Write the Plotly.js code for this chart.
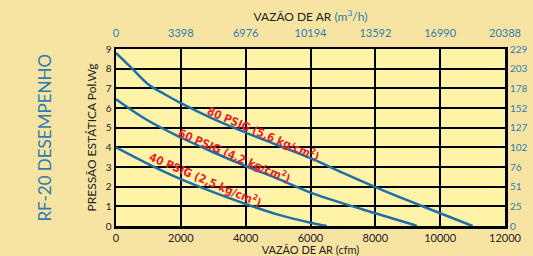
<!DOCTYPE html>
<html>
<head>
<meta charset="utf-8">
<script src="https://cdn.plot.ly/plotly-3.0.1.min.js"></script>
<style>html,body{margin:0;padding:0;background:#f8e4a2;}#chart{width:533px;height:256px;}</style>
</head>
<body>
<div id="chart"></div>
<script>
// Air flow (cfm) and static pressure (in. w.g.)
const flow80 = [0, 500, 1000, 1500, 2000, 3000, 4000, 5000, 6000, 7000, 8000, 9000, 10000, 11000];
const press80 = [8.8, 8.0, 7.2, 6.7, 6.25, 5.45, 4.75, 4.1, 3.45, 2.7, 1.98, 1.3, 0.65, 0];
const flow60 = [0, 1000, 2000, 3000, 4000, 5000, 6000, 7000, 8000, 9000, 9280];
const press60 = [6.45, 5.35, 4.5, 3.75, 3.05, 2.4, 1.7, 1.15, 0.65, 0.15, 0];
const flow40 = [0, 1000, 2000, 3000, 4000, 5000, 6000, 6500];
const press40 = [4.0, 3.15, 2.38, 1.72, 1.12, 0.58, 0.17, 0];

const seriesLabels = ['80 PSIG (5,6 kg/cm<sup>2</sup>)', '60 PSIG (4,2 kg/cm<sup>2</sup>)', '40 PSIG (2,5 kg/cm<sup>2</sup>)'];
const labelX = [4534, 3640, 2745];
const labelY = [4.68, 3.56, 2.34];

const cfmTicks = [0, 2000, 4000, 6000, 8000, 10000, 12000];
const cfmTickText = ['0', '2000', '4000', '6000', '8000', '10000', '12000'];
const m3hTickText = ['0', '3398', '6976', '10194', '13592', '16990', '20388'];
const inwgTicks = [0, 1, 2, 3, 4, 5, 6, 7, 8, 9];
const mmTickText = ['0', '25', '51', '76', '102', '127', '152', '178', '203', '229'];

const blue = '#1f6ea8';
const axisBlue = '#2d7db3';
const red = '#e8212b';
const font = 'Lato, "Open Sans", sans-serif';
const labelFont = '"Liberation Sans Narrow", "DejaVu Sans Condensed", "Open Sans", sans-serif';

const lineStyle = {color: blue, width: 2.5, shape: 'spline', smoothing: 1};
const traces = [
  {x: flow80, y: press80, mode: 'lines', line: lineStyle, hoverinfo: 'skip'},
  {x: flow60, y: press60, mode: 'lines', line: lineStyle, hoverinfo: 'skip'},
  {x: flow40, y: press40, mode: 'lines', line: lineStyle, hoverinfo: 'skip'},
  {x: [0, 12000], y: [0, 0], xaxis: 'x2', yaxis: 'y2', mode: 'markers', marker: {opacity: 0}, hoverinfo: 'skip'}
];

const annotations = seriesLabels.map((t, i) => ({
  text: '<b>' + t + '</b>', x: labelX[i], y: labelY[i], xref: 'x', yref: 'y', showarrow: false,
  textangle: 23, font: {family: labelFont, size: 11.5, color: red}
}));
annotations.push({
  text: 'RF-20 DESEMPENHO', xref: 'paper', yref: 'paper', x: -0.185, y: 0.5,
  xanchor: 'center', yanchor: 'middle', showarrow: false, textangle: -90,
  font: {family: font, size: 17, color: axisBlue}
});

const layout = {
  width: 533, height: 256,
  margin: {l: 116, r: 28, t: 49, b: 30},
  paper_bgcolor: '#f8e4a2',
  plot_bgcolor: '#fff3a8',
  showlegend: false,
  font: {family: font, size: 10, color: '#222'},
  xaxis: {
    range: [0, 12000], tickvals: cfmTicks, ticktext: cfmTickText, showgrid: true, gridcolor: '#000', gridwidth: 2,
    zeroline: false, showline: true, linecolor: '#000', linewidth: 2.5, mirror: true,
    ticks: '', tickfont: {size: 11, color: '#222'},
    title: {text: 'VAZÃO DE AR (cfm)', font: {size: 11, color: '#222'}, standoff: 10}
  },
  xaxis2: {
    overlaying: 'x', side: 'top', range: [0, 12000], tickvals: cfmTicks, ticktext: m3hTickText,
    showgrid: false, zeroline: false, ticks: 'outside', ticklen: 7, tickcolor: 'rgba(0,0,0,0)',
    tickfont: {size: 11, color: axisBlue},
    title: {text: 'VAZÃO DE AR <span style="color:' + axisBlue + '">(m<sup>3</sup>/h)</span>', font: {size: 12, color: '#222'}, standoff: 1}
  },
  yaxis: {
    range: [0, 9], tickvals: inwgTicks, showgrid: true, gridcolor: '#000', gridwidth: 2,
    zeroline: false, showline: true, linecolor: '#000', linewidth: 2.5, mirror: true,
    ticks: '', tickfont: {size: 10, color: '#222'},
    title: {text: 'PRESSÃO ESTÁTICA Pol.Wg', font: {size: 12, color: '#222'}, standoff: 7}
  },
  yaxis2: {
    overlaying: 'y', side: 'right', range: [0, 9], tickvals: inwgTicks, ticktext: mmTickText,
    showgrid: false, zeroline: false, ticks: 'outside', ticklen: 2, tickcolor: 'rgba(0,0,0,0)',
    tickfont: {size: 10, color: axisBlue}
  },
  annotations: annotations
};

Plotly.newPlot('chart', traces, layout, {staticPlot: true, displayModeBar: false});
</script>
</body>
</html>
